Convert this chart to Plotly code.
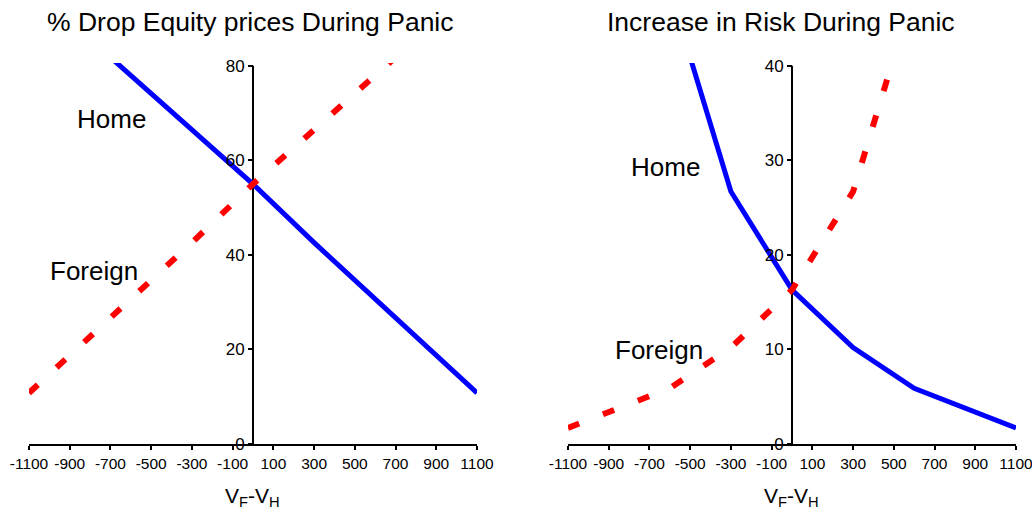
import plotly.graph_objects as go

# ---------------- data ----------------
x_tick_vals = [-1100, -900, -700, -500, -300, -100, 100, 300, 500, 700, 900, 1100]
x_tick_text = ["-1100", "-900", "-700", "-500", "-300", "-100", "100", "300", "500", "700", "900", "1100"]

# Left panel: % drop in equity prices during panic
left_home_x = [-700, 0, 300, 1100]
left_home_y = [81.8, 55.0, 42.6, 10.8]
left_foreign_x = [-1100, -300, 0, 700]
left_foreign_y = [10.8, 42.6, 55.0, 81.8]
left_y_ticks = [0, 20, 40, 60, 80]

# Right panel: increase in risk during panic
right_home_x = [-500, -300, 0, 300, 600, 1100]
right_home_y = [40.9, 26.7, 16.3, 10.2, 5.9, 1.7]
right_foreign_x = [-1100, -600, -300, 0, 300, 500]
right_foreign_y = [1.7, 5.9, 10.2, 16.3, 26.7, 40.9]
right_y_ticks = [0, 10, 20, 30, 40]

titles = ["% Drop Equity prices During Panic", "Increase in Risk During Panic"]

# ---------------- layout helpers ----------------
W, H = 1032, 512
def px(x):
    return x / W
def py(y):
    return 1 - y / H

FONT = "Liberation Sans, Arial, Helvetica, sans-serif"
BLUE = "#0000FF"
RED = "#FF0000"
RED_DASH = "12px,25.5px"

fig = go.Figure()

fig.add_trace(go.Scatter(x=left_home_x, y=left_home_y, mode="lines",
                         line=dict(color=BLUE, width=5), xaxis="x", yaxis="y",
                         showlegend=False, hoverinfo="skip"))
fig.add_trace(go.Scatter(x=left_foreign_x, y=left_foreign_y, mode="lines",
                         line=dict(color=RED, width=6, dash=RED_DASH), xaxis="x", yaxis="y",
                         showlegend=False, hoverinfo="skip"))
fig.add_trace(go.Scatter(x=right_home_x, y=right_home_y, mode="lines",
                         line=dict(color=BLUE, width=5), xaxis="x2", yaxis="y2",
                         showlegend=False, hoverinfo="skip"))
fig.add_trace(go.Scatter(x=right_foreign_x, y=right_foreign_y, mode="lines",
                         line=dict(color=RED, width=6, dash=RED_DASH), xaxis="x2", yaxis="y2",
                         showlegend=False, hoverinfo="skip"))

ydom = [py(444), py(63)]
left_xdom = [px(29), px(477)]
right_xdom = [px(568), px(1016)]

xaxis_common = dict(range=[-1100, 1100], showline=True, linecolor="black", linewidth=2,
                    ticks="outside", ticklen=4, tickwidth=1.5, tickcolor="black",
                    tickvals=x_tick_vals, ticktext=x_tick_text, showgrid=False, zeroline=False,
                    automargin=False, ticklabeloverflow="allow",
                    tickfont=dict(family=FONT, size=15.5, color="black"), fixedrange=True)
yaxis_common = dict(showline=False, ticks="outside", ticklen=5, tickwidth=1.5, tickcolor="black",
                    showgrid=False, zeroline=False, anchor="free", domain=ydom, automargin=False,
                    tickfont=dict(family=FONT, size=17, color="black"), fixedrange=True)

fig.update_layout(
    template="none",
    width=W, height=H,
    margin=dict(l=0, r=0, t=0, b=0, pad=0, autoexpand=False),
    paper_bgcolor="white", plot_bgcolor="white",
    showlegend=False,
    xaxis=dict(domain=left_xdom, anchor="y", **xaxis_common),
    yaxis=dict(range=[0, 80.6], tickvals=left_y_ticks, position=px(253), **yaxis_common),
    xaxis2=dict(domain=right_xdom, anchor="y2", **xaxis_common),
    yaxis2=dict(range=[0, 40.3], tickvals=right_y_ticks, position=px(792), **yaxis_common),
)

# vertical axis lines at x = 0 (from 0 to top tick)
fig.add_shape(type="line", xref="x", yref="y", x0=0, x1=0, y0=0, y1=left_y_ticks[-1],
              line=dict(color="black", width=2), layer="below")
fig.add_shape(type="line", xref="x2", yref="y2", x0=0, x1=0, y0=0, y1=right_y_ticks[-1],
              line=dict(color="black", width=2), layer="below")

def ann(text, x, y, size, xanchor="center"):
    fig.add_annotation(text=text, x=px(x), y=py(y), xref="paper", yref="paper",
                       xanchor=xanchor, yanchor="middle", showarrow=False,
                       font=dict(family=FONT, size=size, color="black"))

ann(titles[0], 250, 22, 26.5)
ann(titles[1], 781, 22, 26.5)
ann("Home", 111, 119, 26)
ann("Foreign", 94, 271, 26)
ann("Home", 665, 167, 26)
ann("Foreign", 659, 350, 26)
ann("V<sub>F</sub>-V<sub>H</sub>", 252, 497, 21)
ann("V<sub>F</sub>-V<sub>H</sub>", 791, 497, 21)

fig.write_html("out.html",
               config={"displayModeBar": False},
               post_script="document.body.style.margin='0';document.body.style.overflow='hidden';")
